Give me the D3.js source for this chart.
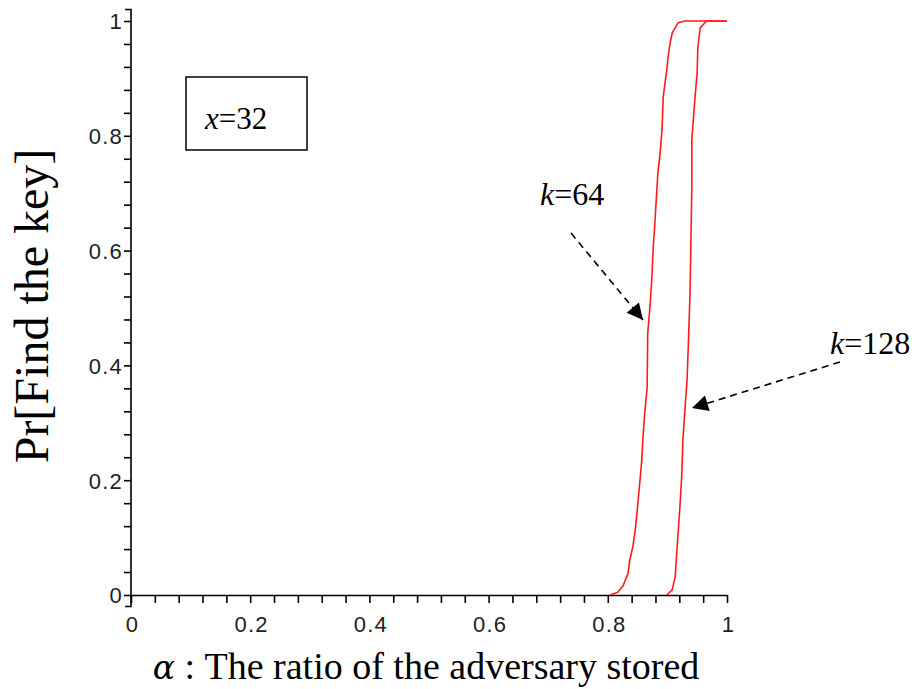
<!DOCTYPE html>
<html>
<head>
<meta charset="utf-8">
<script src="https://cdn.jsdelivr.net/npm/d3@7"></script>
<style>
  body { margin: 0; background: #fff; }
  svg { display: block; }
  .tick text { font-family: "Liberation Sans", Arial, sans-serif; font-size: 22px; letter-spacing: 1.2px; }
</style>
</head>
<body>
<div id="chart"></div>
<script>
// curve data (alpha, probability)
var k64 = [
  [0.804, 0], [0.817, 0.005], [0.826, 0.017], [0.834, 0.038], [0.837, 0.061],
  [0.842, 0.084], [0.846, 0.113], [0.849, 0.143], [0.854, 0.200], [0.857, 0.235],
  [0.859, 0.274], [0.862, 0.317], [0.866, 0.361], [0.867, 0.456], [0.871, 0.505],
  [0.874, 0.554], [0.876, 0.601], [0.879, 0.648], [0.884, 0.735], [0.888, 0.772],
  [0.891, 0.810], [0.893, 0.868], [0.896, 0.892], [0.899, 0.915], [0.901, 0.936],
  [0.904, 0.958], [0.908, 0.979], [0.913, 0.988], [0.918, 0.997], [0.930, 1.0],
  [1.0, 1.0]
];
var k128 = [
  [0.899, 0], [0.908, 0.009], [0.913, 0.031], [0.916, 0.078], [0.918, 0.108],
  [0.921, 0.153], [0.924, 0.206], [0.926, 0.270], [0.930, 0.331], [0.933, 0.375],
  [0.935, 0.432], [0.938, 0.526], [0.941, 0.711], [0.941, 0.793], [0.946, 0.862],
  [0.950, 0.911], [0.951, 0.953], [0.955, 0.988], [0.963, 0.997], [0.966, 1.0],
  [1.0, 1.0]
];
var xTicks = d3.range(0, 26).map(function (i) { return i * 0.04; });
var yTicks = d3.range(0, 26).map(function (i) { return i * 0.04; });
var majorTicks = [0, 0.2, 0.4, 0.6, 0.8, 1];

var width = 912, height = 689;

var svg = d3.select("#chart").append("svg")
    .attr("width", width)
    .attr("height", height);

var x = d3.scaleLinear().domain([0, 1]).range([131, 727]);
var y = d3.scaleLinear().domain([0, 1]).range([595, 21]);

function isMajor(v) {
  return majorTicks.some(function (m) { return Math.abs(m - v) < 1e-6; });
}
function fmt(v) {
  return isMajor(v) ? d3.format("~g")(+v.toFixed(2)) : "";
}

// x axis
var xAxis = svg.append("g")
    .attr("transform", "translate(0," + y(0) + ")")
    .call(d3.axisBottom(x).tickValues(xTicks).tickSize(8).tickSizeOuter(0).tickFormat(fmt));
// y axis
var yAxis = svg.append("g")
    .attr("transform", "translate(" + x(0) + ",0)")
    .call(d3.axisLeft(y).tickValues(yTicks).tickSize(7).tickSizeOuter(0).tickFormat(fmt));

// y axis extends a little past 0 and 1, with small caps
yAxis.select(".domain")
    .attr("d", "M-6," + y(1.02) + "H0V" + y(-0.02) + "H-6");

[xAxis, yAxis].forEach(function (a) {
  a.attr("font-size", null).attr("font-family", null);
  a.selectAll(".domain, line").attr("stroke", "#000").attr("stroke-width", 1.6);
  a.selectAll("text").attr("fill", "#222");
});
xAxis.selectAll("text").attr("dy", null).attr("y", 37).attr("dx", 1);
yAxis.selectAll("text").attr("x", -8).attr("dy", "0.36em");

// curves
var line = d3.line()
    .x(function (d) { return x(d[0]); })
    .y(function (d) { return y(d[1]); });

[k64, k128].forEach(function (s) {
  svg.append("path")
      .datum(s)
      .attr("fill", "none")
      .attr("stroke", "#ff1a1a")
      .attr("stroke-width", 1.6)
      .attr("d", line);
});

// arrows
svg.append("defs").append("marker")
    .attr("id", "head")
    .attr("viewBox", "0 0 10 10")
    .attr("refX", 10).attr("refY", 5)
    .attr("markerWidth", 21).attr("markerHeight", 16)
    .attr("markerUnits", "userSpaceOnUse")
    .attr("orient", "auto")
  .append("path")
    .attr("d", "M0,0L10,5L0,10z")
    .attr("fill", "#000");

var arrows = [
  { x1: 571, y1: 233, x2: 643, y2: 320 },
  { x1: 840, y1: 362, x2: 692, y2: 408 }
];
svg.selectAll(".arrow").data(arrows).enter().append("line")
    .attr("class", "arrow")
    .attr("x1", function (d) { return d.x1; })
    .attr("y1", function (d) { return d.y1; })
    .attr("x2", function (d) { return d.x2; })
    .attr("y2", function (d) { return d.y2; })
    .attr("stroke", "#000")
    .attr("stroke-width", 1.6)
    .attr("stroke-dasharray", "7,5")
    .attr("marker-end", "url(#head)");

// labels
var serif = "Liberation Serif, Times New Roman, serif";

svg.append("rect")
    .attr("x", 186).attr("y", 77)
    .attr("width", 121).attr("height", 73)
    .attr("fill", "none").attr("stroke", "#000").attr("stroke-width", 1.5);

function kLabel(px, py, main, rest, size) {
  var t = svg.append("text")
      .attr("x", px).attr("y", py)
      .attr("font-family", serif)
      .attr("font-size", size)
      .attr("fill", "#000");
  t.append("tspan").attr("font-style", "italic").text(main);
  t.append("tspan").text(rest);
}
kLabel(205, 129, "x", "=32", 31);
kLabel(540, 205, "k", "=64", 32);
kLabel(830, 354, "k", "=128", 32);

svg.append("text")
    .attr("transform", "translate(48,306) rotate(-90)")
    .attr("text-anchor", "middle")
    .attr("font-family", serif)
    .attr("font-size", 48)
    .text("Pr[Find the key]");

var xl = svg.append("text")
    .attr("x", 426).attr("y", 679)
    .attr("text-anchor", "middle")
    .attr("font-family", serif)
    .attr("font-size", 38);
xl.append("tspan").attr("font-style", "italic").attr("font-family", "DejaVu Serif, serif").attr("font-size", 33).text("α");
xl.append("tspan").text(" : The ratio of the adversary stored");
</script>
</body>
</html>
